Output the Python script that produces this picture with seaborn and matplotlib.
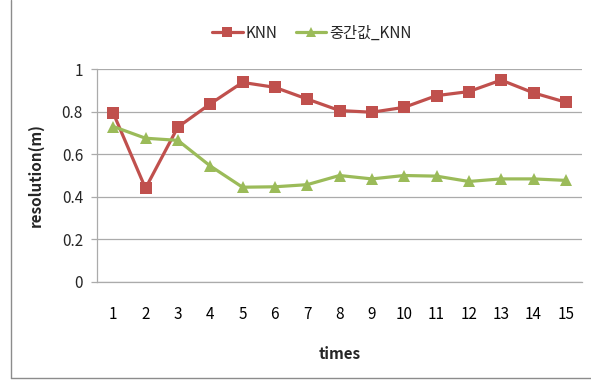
import matplotlib
matplotlib.use("Agg")
import matplotlib.pyplot as plt
from matplotlib.lines import Line2D
import seaborn as sns
import pandas as pd

times = list(range(1, 16))
knn = [0.794, 0.44, 0.727, 0.836, 0.937, 0.914, 0.859, 0.805, 0.797, 0.82,
       0.875, 0.894, 0.948, 0.888, 0.844]
median_knn = [0.73, 0.675, 0.665, 0.545, 0.445, 0.447, 0.457, 0.5, 0.484, 0.5,
              0.497, 0.472, 0.484, 0.484, 0.477]
series_names = ["KNN", "중간값_KNN"]
yticks = [0, 0.2, 0.4, 0.6, 0.8, 1]

sns.set_style("white")
plt.rcParams["font.family"] = ["Noto Sans CJK KR", "DejaVu Sans"]

red = "#C0504D"
green = "#9BBB59"

df = pd.DataFrame({
    "times": times * 2,
    "value": knn + median_knn,
    "series": [series_names[0]] * len(times) + [series_names[1]] * len(times),
})

fig = plt.figure(figsize=(5.91, 3.82), dpi=100)
ax = fig.add_axes([97 / 591, 1 - 282 / 382, (582 - 97) / 591, (282 - 69) / 382])

sns.lineplot(data=df, x="times", y="value", hue="series", style="series",
             palette=[red, green], markers=["s", "^"], dashes=False,
             markersize=8.5, linewidth=2.3, markeredgewidth=0, ax=ax,
             legend=False)

ax.set_xlim(0.5, 15.5)
ax.set_ylim(0, 1)
ax.set_yticks(yticks)
ax.set_yticklabels([f"{v:g}" for v in yticks])
ax.set_xticks(times)
ax.set_xticklabels([str(t) for t in times])
ax.set_xticks([t + 0.5 for t in range(0, 16)], minor=True)
ax.grid(axis="y", color="#ABABAB", linewidth=0.9)
ax.set_axisbelow(True)

for side in ["top", "right"]:
    ax.spines[side].set_visible(False)
for side in ["left", "bottom"]:
    ax.spines[side].set_color("#ABABAB")
    ax.spines[side].set_linewidth(0.9)

ax.tick_params(axis="x", which="major", length=0, pad=17, labelsize=11, colors="black")
ax.tick_params(axis="x", which="minor", length=4, color="#ABABAB", width=0.9, direction="out")
ax.tick_params(axis="y", which="major", length=4, color="#ABABAB", width=0.9,
               labelsize=11, pad=6, left=True)

ax.set_xlabel("times", fontsize=11, fontweight="bold", labelpad=17)
ax.set_ylabel("resolution(m)", fontsize=11, fontweight="bold", labelpad=13)

handles = [
    Line2D([], [], color=red, marker="s", linewidth=2.3, markersize=7, markeredgewidth=0),
    Line2D([], [], color=green, marker="^", linewidth=2.3, markersize=7, markeredgewidth=0),
]
fig.legend(handles, series_names, loc="center", bbox_to_anchor=(312 / 591, 1 - 33 / 382),
           ncol=2, frameon=False, fontsize=11, handlelength=2.0, handletextpad=0.2,
           columnspacing=1.2)

# chart frame edges
fig.add_artist(Line2D([11 / 591, 11 / 591], [1 - 378 / 382, 1.0], transform=fig.transFigure,
                      color="#8C8C8C", linewidth=1))
fig.add_artist(Line2D([11 / 591, 1.0], [1 - 378 / 382, 1 - 378 / 382], transform=fig.transFigure,
                      color="#8C8C8C", linewidth=1))

fig.savefig("out.png", dpi=100)
